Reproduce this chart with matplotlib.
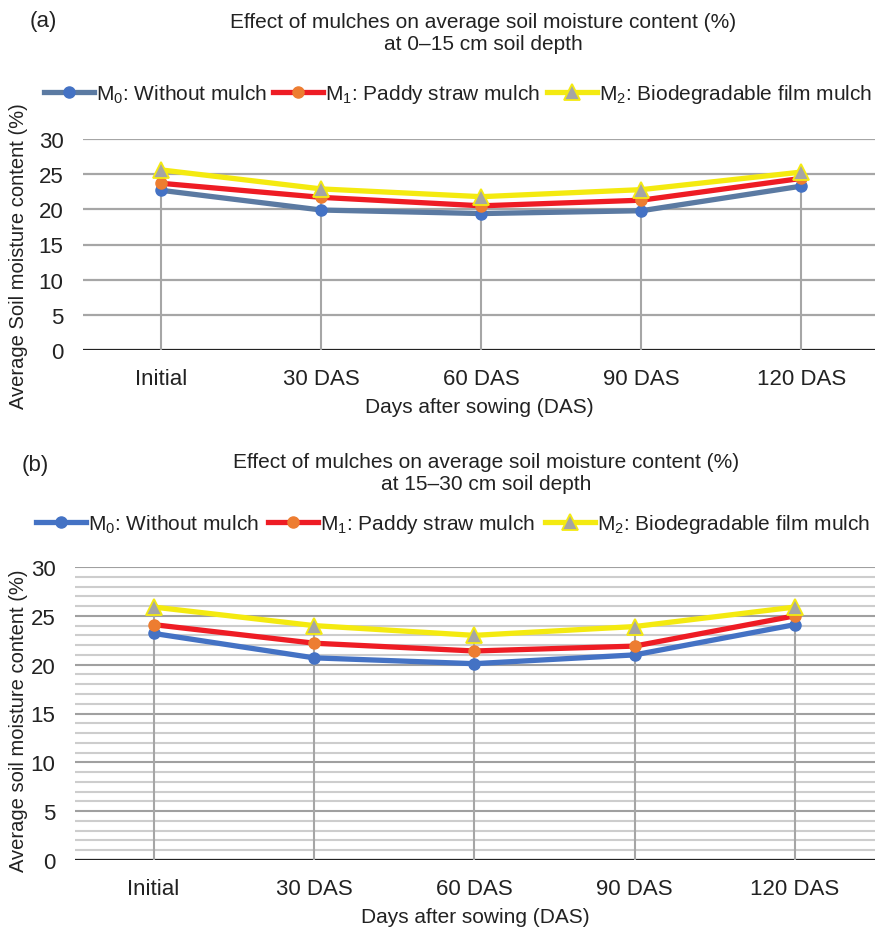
import numpy as np
import matplotlib.pyplot as plt

plt.rcParams['font.family'] = ['Liberation Sans', 'DejaVu Sans']
plt.rcParams['mathtext.fontset'] = 'custom'
plt.rcParams['mathtext.rm'] = 'Liberation Sans'

days = ['Initial', '30 DAS', '60 DAS', '90 DAS', '120 DAS']
labels = [r'M$_0$: Without mulch', r'M$_1$: Paddy straw mulch',
          r'M$_2$: Biodegradable film mulch']

# 0-15 cm depth
a_m0 = [22.7, 19.9, 19.4, 19.8, 23.3]
a_m1 = [23.7, 21.7, 20.5, 21.3, 24.4]
a_m2 = [25.6, 22.9, 21.8, 22.8, 25.3]

# 15-30 cm depth
b_m0 = [23.2, 20.7, 20.1, 21.0, 24.1]
b_m1 = [24.1, 22.2, 21.4, 21.9, 25.0]
b_m2 = [25.9, 24.0, 23.0, 23.9, 25.9]

W, H = 875, 929
fig = plt.figure(figsize=(W / 100, H / 100), dpi=100)
TXT = '#222222'


def draw(ax, m0, m1, m2, m0_line, minor, ylab, xlim):
    x = np.arange(len(days))
    # grid
    if minor:
        for v in range(0, 31):
            if v % 5 == 0:
                ax.axhline(v, color='#a0a0a0', lw=1.5, zorder=0)
            else:
                ax.axhline(v, color='#cdcdcd', lw=1.5, zorder=0)
    else:
        for v in range(5, 31, 5):
            ax.axhline(v, color='#a6a6a6', lw=1.6, zorder=0)
    ax.axhline(0, color=TXT, lw=1.6, zorder=1)
    top = np.max([m0, m1, m2], axis=0)
    ax.vlines(x, 0, top, color='#a6a6a6', lw=1.5, zorder=1)

    ax.plot(x, m0, color=m0_line, lw=3.8, marker='o', ms=8,
            mfc='#4472c4', mec='#4472c4', label=labels[0], zorder=3)
    ax.plot(x, m1, color='#ee1c24', lw=3.8, marker='o', ms=8,
            mfc='#ed7d31', mec='#ed7d31', label=labels[1], zorder=4)
    ax.plot(x, m2, color='#f4ea10', lw=3.8, marker='^', ms=11,
            mfc='#a5a5a5', mec='#f4ea10', mew=1.3, label=labels[2], zorder=5)

    ax.set_xlim(*xlim)
    ax.set_ylim(0, 30)
    ax.set_yticks(range(0, 31, 5))
    ax.set_xticks(x)
    ax.set_xticklabels(days)
    ax.tick_params(length=0, labelsize=16, colors=TXT, pad=13)
    ax.tick_params(axis='y', pad=14)
    for s in ax.spines.values():
        s.set_visible(False)
    ax.set_xlabel('Days after sowing (DAS)', fontsize=15, color=TXT,
                  labelpad=6)
    ax.set_ylabel(ylab, fontsize=14.5, color=TXT)
    return ax


# panel (a)
ax1 = fig.add_axes([83 / W, 1 - 351 / H, (875 - 83) / W, (351 - 140) / H])
draw(ax1, a_m0, a_m1, a_m2, '#5b7aa2', False,
     'Average Soil moisture content (%)', (-0.49, 4.46))
ax1.yaxis.set_label_coords(-(83 - 28) / (875 - 83), 0.45)
fig.text(30 / W, 1 - 22 / H, '(a)', fontsize=16, va='center', ha='left',
         color=TXT)
fig.text(483 / W, 1 - 33 / H,
         'Effect of mulches on average soil moisture content (%)\nat 0–15 cm soil depth',
         fontsize=15, ha='center', va='center', color=TXT, linespacing=1.2)
fig.legend(handles=ax1.get_lines()[-3:], loc='center', ncol=3,
           bbox_to_anchor=(458 / W, 1 - 95 / H), frameon=False, fontsize=15,
           handlelength=2.4, handletextpad=0.1, columnspacing=0.3,
           labelcolor=TXT)

# panel (b)
ax2 = fig.add_axes([75 / W, 1 - 861 / H, (875 - 75) / W, (861 - 568) / H])
draw(ax2, b_m0, b_m1, b_m2, '#4472c4', True,
     'Average soil moisture content (%)', (-0.49, 4.5))
ax2.yaxis.set_label_coords(-(75 - 28) / (875 - 75), 0.48)
fig.text(22 / W, 1 - 466 / H, '(b)', fontsize=16, va='center', ha='left',
         color=TXT)
fig.text(486 / W, 1 - 474 / H,
         'Effect of mulches on average soil moisture content (%)\nat 15–30 cm soil depth',
         fontsize=15, ha='center', va='center', color=TXT, linespacing=1.2)
fig.legend(handles=ax2.get_lines()[-3:], loc='center', ncol=3,
           bbox_to_anchor=(453 / W, 1 - 525 / H), frameon=False, fontsize=15,
           handlelength=2.4, handletextpad=0.1, columnspacing=0.45,
           labelcolor=TXT)

fig.savefig('out.png', dpi=100)
